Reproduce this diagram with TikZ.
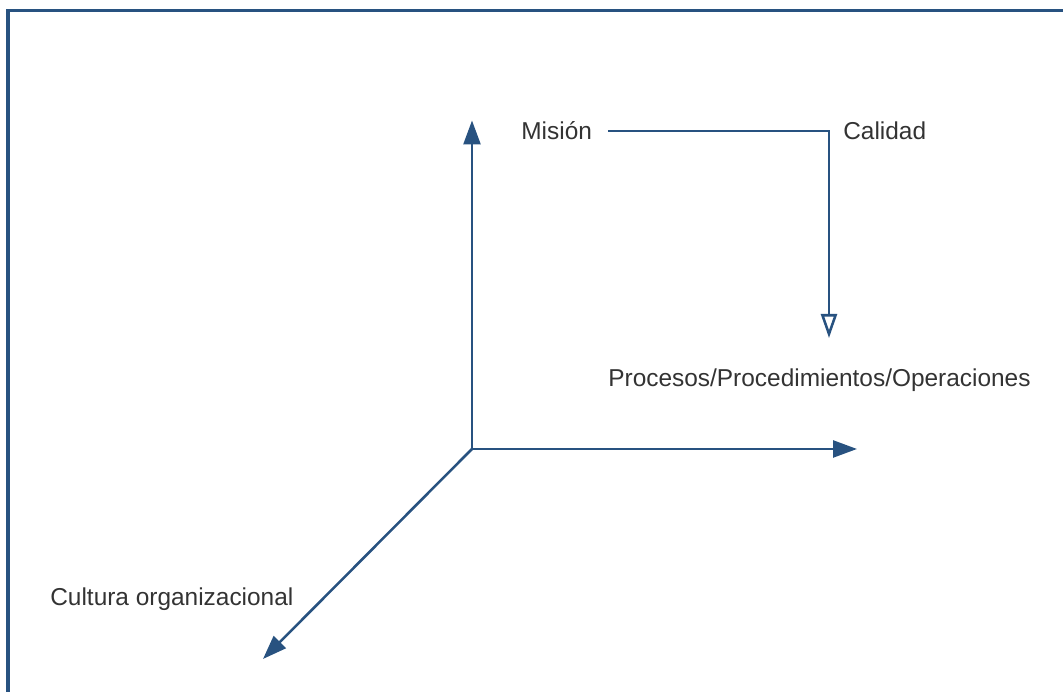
\documentclass[tikz,border=0pt]{standalone}
\usepackage{fontspec, tkz-euclide}
\setmainfont{Liberation Sans}
\usetikzlibrary{arrows.meta}
\definecolor{lineblue}{RGB}{40,82,128}
\definecolor{textgray}{RGB}{51,51,51}
\tikzset{>=stealth,
  axis/.style = {draw=lineblue, line width=1.45pt, -{Triangle[length=4.8mm, width=3.4mm]}},
  flow/.style = {draw=lineblue, line width=1.45pt, -{Triangle[open, length=4.8mm, width=3.2mm]}},
  frame/.style = {draw=lineblue, line width=2pt},
  lbl/.style = {inner sep=0pt, text=textgray, font=\fontsize{13.9}{16}\selectfont}}

\begin{document}
\begin{tikzpicture}
\useasboundingbox (0,0) rectangle (21.26,13.84);
\draw[frame] (0.16,0) |- (21.26,13.63);
\tkzDefPoints{9.44/4.86/O, 9.44/11.43/U, 17.14/4.86/R, 5.26/0.66/C}
\tkzDrawSegments[axis](O,U O,R O,C)
\node[lbl, anchor=base west] (mision) at (10.42,11.05) {Misión};
\node[lbl, anchor=base west] (calidad) at (16.86,11.05) {Calidad};
\node[lbl, anchor=base west] (procesos) at (12.16,6.11) {Procesos/Procedimientos/Operaciones};
\node[lbl, anchor=base west] (cultura) at (1.00,1.73) {Cultura organizacional};
\tkzDefPoints{16.58/11.22/K, 16.58/7.08/T}
\draw[flow, shorten <=3.1mm] (mision.east |- K) -- (K) -- (T);
% \draw (calidad.west) -- (K);
\end{tikzpicture}
\end{document}
